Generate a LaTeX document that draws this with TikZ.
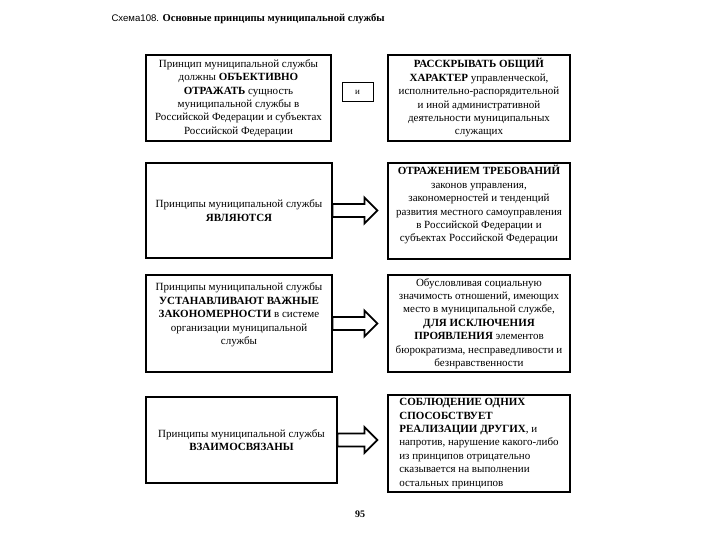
\documentclass[tikz,border=0pt]{standalone}
\usepackage{fontspec}
\setmainfont{Liberation Serif}
\newfontfamily\capsans{Liberation Sans}
\usepackage{tikz}
\usetikzlibrary{calc}
\tikzset{
  bx/.style={draw,line width=1.2pt,align=center,inner sep=2pt,font=\fontsize{11}{13.4}\selectfont},
  bxl/.style={bx,align=left},
  blk/.style={draw,line width=1.7pt,fill=white,line join=miter},
  ttl/.style={anchor=west,font=\fontsize{10.6}{12}\selectfont}
}
\newcommand{\blkar}[2]{\draw[blk] let \p1=(#1.east), \p2=(#2.west) in
  (\x1,\y1+6.5pt) -- (\x2-23pt,\y1+6.5pt) -- (\x2-23pt,\y1+13pt) -- (\x2-10pt,\y1)
  -- (\x2-23pt,\y1-13pt) -- (\x2-23pt,\y1-6.5pt) -- (\x1,\y1-6.5pt) -- cycle;}

\begin{document}
\begin{tikzpicture}[x=1pt,y=-1pt]
\useasboundingbox[fill=white] (0,0) rectangle (720,540);
\node[ttl] (title) at (108,19) {{\capsans\fontsize{9.6}{12}\selectfont Схема108.} \textbf{Основные принципы муниципальной службы}};
\node[bx,minimum width=185pt,minimum height=86pt] (l1) at (238.5,98) {Принцип муниципальной службы\\ должны \textbf{ОБЪЕКТИВНО}\\ \textbf{ОТРАЖАТЬ} сущность\\ муниципальной службы в\\ Российской Федерации и субъектах\\ Российской Федерации};
\node[bx,minimum width=31pt,minimum height=19pt,line width=0.8pt,font=\fontsize{9}{10}\selectfont] (and) at (357.5,92) {и};
\node[bx,minimum width=182pt,minimum height=86pt] (r1) at (479,98) {\textbf{РАССКРЫВАТЬ ОБЩИЙ}\\ \textbf{ХАРАКТЕР} управленческой,\\ исполнительно-распорядительной\\ и иной административной\\ деятельности муниципальных\\ служащих};
\node[bx,minimum width=186pt,minimum height=95pt] (l2) at (239,210.5) {Принципы муниципальной службы\\ \textbf{ЯВЛЯЮТСЯ}};
\node[bx,minimum width=182pt,minimum height=96pt] (r2) at (479,211) {\textbf{ОТРАЖЕНИЕМ ТРЕБОВАНИЙ}\\ законов управления,\\ закономерностей и тенденций\\ развития местного самоуправления\\ в Российской Федерации и\\ субъектах Российской Федерации\\[1pt]};
\node[bx,minimum width=186pt,minimum height=97pt] (l3) at (239,323.5) {Принципы муниципальной службы\\ \textbf{УСТАНАВЛИВАЮТ ВАЖНЫЕ}\\ \textbf{ЗАКОНОМЕРНОСТИ} в системе\\ организации муниципальной\\ службы\\[6pt]};
\node[bx,minimum width=182pt,minimum height=97pt] (r3) at (479,323.5) {Обусловливая социальную\\ значимость отношений, имеющих\\ место в муниципальной службе,\\ \textbf{ДЛЯ ИСКЛЮЧЕНИЯ}\\ \textbf{ПРОЯВЛЕНИЯ} элементов\\ бюрократизма, несправедливости и\\ безнравственности};
\node[bx,minimum width=191pt,minimum height=86pt] (l4) at (241.5,440) {Принципы муниципальной службы\\ \textbf{ВЗАИМОСВЯЗАНЫ}};
\node[bxl,minimum width=182pt,minimum height=97pt] (r4) at (479,443.5) {\textbf{СОБЛЮДЕНИЕ ОДНИХ}\\ \textbf{СПОСОБСТВУЕТ}\\ \textbf{РЕАЛИЗАЦИИ ДРУГИХ}, и\\ напротив, нарушение какого-либо\\ из принципов отрицательно\\ сказывается на выполнении\\ остальных принципов};
\node[font=\fontsize{10}{12}\selectfont\bfseries] (page) at (360,514) {95};
\blkar{l2}{r2}
\blkar{l3}{r3}
\blkar{l4}{r4}
\end{tikzpicture}
\end{document}
